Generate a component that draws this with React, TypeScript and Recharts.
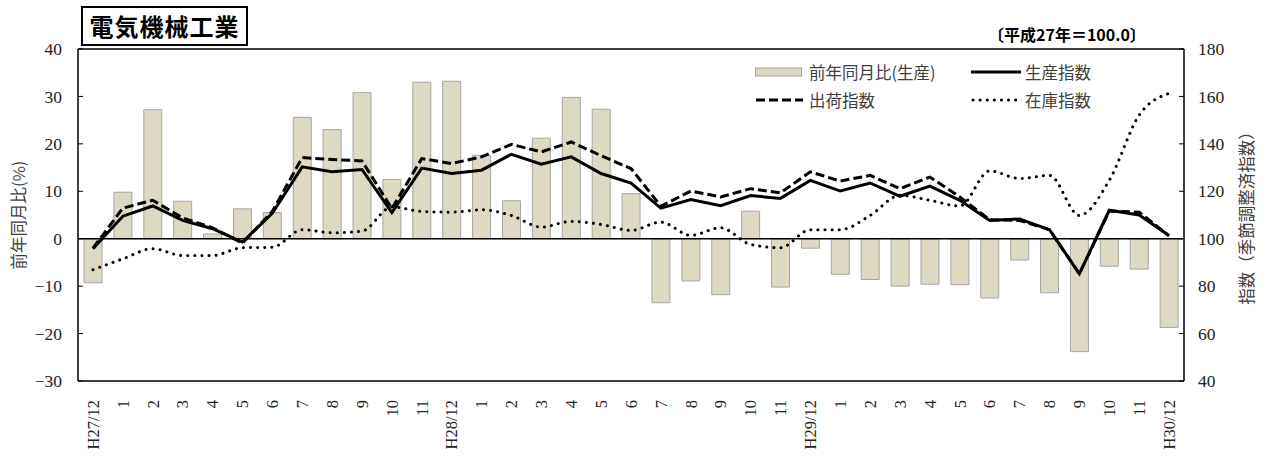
import React from 'react';
import {
  ComposedChart,
  Bar,
  Line,
  XAxis,
  YAxis,
  ReferenceLine,
} from 'recharts';

// 月ラベル (H27/12 〜 H30/12)
const months = [
  'H27/12', '1', '2', '3', '4', '5', '6', '7', '8', '9', '10', '11',
  'H28/12', '1', '2', '3', '4', '5', '6', '7', '8', '9', '10', '11',
  'H29/12', '1', '2', '3', '4', '5', '6', '7', '8', '9', '10', '11',
  'H30/12',
];

// 前年同月比(生産) %
const yoyChange = [
  -9.3, 9.8, 27.2, 7.9, 1.0, 6.3, 5.5, 25.6, 23.0, 30.8, 12.5, 33.0,
  33.2, 17.6, 8.0, 21.2, 29.8, 27.3, 9.5, -13.5, -8.9, -11.8, 5.8, -10.2,
  -2.0, -7.5, -8.6, -10.0, -9.6, -9.7, -12.5, -4.5, -11.4, -23.8, -5.8, -6.4,
  -18.7,
];

// 生産指数
const productionIndex = [
  95.8, 109.5, 113.8, 107.7, 104.2, 98.6, 110.7, 130.3, 128.2, 129.2, 111.0, 129.8,
  127.5, 128.9, 135.6, 131.4, 134.5, 127.5, 123.5, 112.9, 116.5, 113.9, 118.2, 117.0,
  124.6, 120.1, 123.5, 117.9, 122.2, 116.2, 107.7, 108.3, 103.8, 85.2, 112.0, 110.0,
  101.4,
];

// 出荷指数
const shipmentIndex = [
  96.0, 112.9, 116.2, 108.8, 104.6, 98.1, 111.5, 134.2, 133.4, 132.8, 112.7, 133.8,
  131.7, 134.5, 139.8, 136.6, 140.8, 135.0, 129.6, 113.7, 120.1, 117.6, 121.1, 119.3,
  128.2, 124.3, 126.7, 121.1, 126.0, 117.6, 108.0, 107.7, 103.8, 85.2, 111.7, 111.2,
  101.2,
];

// 在庫指数
const inventoryIndex = [
  86.9, 91.5, 95.8, 92.9, 92.9, 96.2, 96.4, 103.8, 102.5, 103.2, 113.4, 111.5,
  111.2, 112.2, 109.8, 104.9, 107.3, 106.0, 103.5, 107.0, 101.4, 104.6, 97.6, 96.2,
  103.8, 103.8, 109.8, 118.3, 116.2, 113.8, 128.6, 125.4, 126.7, 109.8, 124.6, 152.1,
  161.3,
];

const leftTicks = [-30, -20, -10, 0, 10, 20, 30, 40];
const rightTicks = [40, 60, 80, 100, 120, 140, 160, 180];

const data = months.map((m, i) => ({
  month: m,
  yoy: yoyChange[i],
  production: productionIndex[i],
  shipment: shipmentIndex[i],
  inventory: inventoryIndex[i],
}));

const serif = '"Liberation Serif", "DejaVu Serif", serif';
const jp = '"Noto Sans CJK JP", "Noto Sans", sans-serif';

const fmtMinus = (v: number) => (v < 0 ? `\u2212${Math.abs(v)}` : `${v}`);

const MonthTick = (props: any) => {
  const { x, y, payload } = props;
  return (
    <text
      x={0}
      y={0}
      transform={`translate(${x},${y + 11}) rotate(-90)`}
      textAnchor="end"
      dy="0.35em"
      fontFamily={serif}
      fontSize={16.5}
      fill="#222"
    >
      {payload.value}
    </text>
  );
};

const legendItems = [
  { label: '前年同月比(生産)', kind: 'bar' },
  { label: '生産指数', kind: 'solid' },
  { label: '出荷指数', kind: 'dash' },
  { label: '在庫指数', kind: 'dot' },
];

function LegendBox() {
  return (
    <div
      style={{
        position: 'absolute', left: 755, top: 62,
        display: 'grid', gridTemplateColumns: '216px 150px', rowGap: 8,
        fontFamily: jp, fontSize: 16.5, color: '#404040',
      }}
    >
      {legendItems.map(item => (
        <div key={item.label} style={{ display: 'flex', alignItems: 'center', height: 20 }}>
          <svg width={50} height={12} style={{ marginRight: 4 }}>
            {item.kind === 'bar' && <rect x={0.5} y={2} width={46} height={8} fill="#DDD9C3" stroke="#A6A6A6" />}
            {item.kind === 'solid' && <line x1={0} y1={6} x2={50} y2={6} stroke="#000" strokeWidth={3} />}
            {item.kind === 'dash' && <line x1={1} y1={6} x2={48} y2={6} stroke="#000" strokeWidth={3} strokeDasharray="9 4" />}
            {item.kind === 'dot' && (
              <line x1={2} y1={6} x2={50} y2={6} stroke="#000" strokeWidth={3} strokeDasharray="0.1 7" strokeLinecap="round" />
            )}
          </svg>
          <span>{item.label}</span>
        </div>
      ))}
    </div>
  );
}

export default function App() {
  return (
    <div style={{ position: 'absolute', left: 0, top: 0, width: 1266, height: 456, background: '#fff' }}>
      <div
        style={{
          position: 'absolute', left: 81, top: 6, width: 163, height: 36,
          border: '2px solid #000', fontFamily: jp, fontWeight: 700, fontSize: 24,
          lineHeight: '36px', textAlign: 'center', letterSpacing: 1, color: '#000',
        }}
      >
        電気機械工業
      </div>
      <div style={{ position: 'absolute', left: 988, top: 22, fontFamily: jp, fontWeight: 700, fontSize: 16, color: '#000' }}>
        〔平成27年＝100.0〕
      </div>
      <div
        style={{
          position: 'absolute', left: 18, top: 215, transform: 'translate(-50%,-50%) rotate(-90deg)',
          whiteSpace: 'nowrap', fontFamily: jp, fontSize: 16.5, color: '#404040',
        }}
      >
        前年同月比(%)
      </div>
      <div
        style={{
          position: 'absolute', left: 1246, top: 214, transform: 'translate(-50%,-50%) rotate(-90deg)',
          whiteSpace: 'nowrap', fontFamily: jp, fontSize: 16.5, color: '#404040',
        }}
      >
        指数（季節調整済指数）
      </div>
      <ComposedChart
        width={1266}
        height={456}
        data={data}
        margin={{ top: 49, right: 0, bottom: 0, left: 0 }}
        barCategoryGap="40%"
      >
        <XAxis
          dataKey="month"
          interval={0}
          height={75}
          tick={<MonthTick />}
          tickLine={false}
          axisLine={{ stroke: '#000', strokeWidth: 1.5 }}
        />
        <YAxis
          yAxisId="left"
          orientation="left"
          width={78}
          domain={[-30, 40]}
          ticks={leftTicks}
          tickFormatter={fmtMinus}
          tickSize={-5}
          tickMargin={21}
          tick={{ fontFamily: serif, fontSize: 17.5, fill: '#222' }}
          axisLine={{ stroke: '#000', strokeWidth: 1.5 }}
          tickLine={{ stroke: '#000' }}
          allowDataOverflow
        />
        <YAxis
          yAxisId="right"
          orientation="right"
          width={82}
          domain={[40, 180]}
          ticks={rightTicks}
          tickSize={-5}
          tickMargin={19}
          tick={{ fontFamily: serif, fontSize: 17.5, fill: '#222', textAnchor: 'start' }}
          axisLine={{ stroke: '#000', strokeWidth: 1.5 }}
          tickLine={{ stroke: '#000' }}
          allowDataOverflow
        />
        <ReferenceLine yAxisId="left" y={40} stroke="#000" strokeWidth={1.5} />
        <Bar
          yAxisId="left"
          dataKey="yoy"
          fill="#DDD9C3"
          stroke="#A6A6A6"
          strokeWidth={1}
          barSize={18}
          isAnimationActive={false}
        />
        <ReferenceLine yAxisId="left" y={0} stroke="#000" strokeWidth={1.5} />
        <Line
          yAxisId="right"
          type="monotone"
          dataKey="inventory"
          stroke="#000"
          strokeWidth={3}
          strokeDasharray="0.1 7"
          strokeLinecap="round"
          dot={false}
          isAnimationActive={false}
        />
        <Line
          yAxisId="right"
          type="linear"
          dataKey="shipment"
          stroke="#000"
          strokeWidth={3}
          strokeDasharray="9 4"
          dot={false}
          isAnimationActive={false}
        />
        <Line
          yAxisId="right"
          type="linear"
          dataKey="production"
          stroke="#000"
          strokeWidth={3}
          dot={false}
          isAnimationActive={false}
        />
      </ComposedChart>
      <LegendBox />
    </div>
  );
}
